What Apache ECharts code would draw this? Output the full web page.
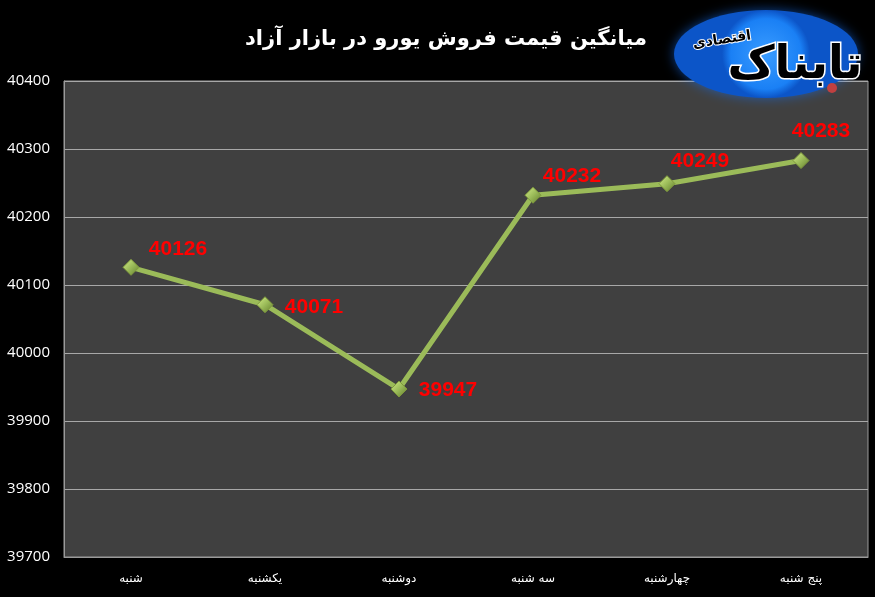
<!DOCTYPE html>
<html lang="fa">
<head>
    <meta charset="UTF-8">
    <title>میانگین قیمت فروش یورو</title>
    <script src="https://cdn.jsdelivr.net/npm/echarts@6/dist/echarts.min.js"></script>
    <style>
        html, body { margin: 0; padding: 0; background: #000; }
        #main { width: 875px; height: 597px; }
    </style>
</head>
<body>
<div id="main"></div>
<script>
    // داده‌ها
    var days = ['شنبه', 'یکشنبه', 'دوشنبه', 'سه شنبه', 'چهارشنبه', 'پنج شنبه'];
    var prices = [40126, 40071, 39947, 40232, 40249, 40283];
    var yTicks = [39700, 39800, 39900, 40000, 40100, 40200, 40300, 40400];

    // label offsets per point (placement only)
    var labelOffsets = [[47, -18], [49, 2], [49, 1], [39, -19], [33, -22], [20, -29]];

    var chart = echarts.init(document.getElementById('main'));

    chart.setOption({
        backgroundColor: '#000',
        animation: false,
        title: {
            text: 'میانگین قیمت فروش یورو در بازار آزاد',
            left: 441,
            top: 24,
            textAlign: 'center',
            textStyle: {
                color: '#fff',
                fontSize: 21,
                fontWeight: 'bold',
                fontFamily: 'DejaVu Sans'
            }
        },
        grid: {
            left: 64, right: 7, top: 81, bottom: 40,
            show: true,
            backgroundColor: '#404040',
            borderColor: '#9a9a9a',
            borderWidth: 1
        },
        xAxis: {
            type: 'category',
            data: days,
            axisLine: { lineStyle: { color: '#9a9a9a' } },
            axisTick: { show: false },
            axisLabel: {
                color: '#fff',
                fontSize: 12,
                fontFamily: 'DejaVu Sans',
                margin: 16
            }
        },
        yAxis: {
            type: 'value',
            min: yTicks[0],
            max: yTicks[yTicks.length - 1],
            interval: 100,
            axisLine: { show: true, lineStyle: { color: '#9a9a9a' } },
            axisTick: { show: false },
            splitLine: { lineStyle: { color: '#a8a8a8', width: 1 } },
            axisLabel: {
                color: '#fff',
                fontSize: 15,
                fontFamily: 'Open Sans',
                margin: 14,
                formatter: function (v) { return String(v); }
            }
        },
        series: [{
            type: 'line',
            data: prices.map(function (v, i) {
                return {
                    value: v,
                    label: { offset: labelOffsets[i] }
                };
            }),
            lineStyle: { color: '#9bbb59', width: 5 },
            symbol: 'diamond',
            symbolSize: 16,
            itemStyle: {
                color: new echarts.graphic.LinearGradient(0, 0, 1, 1, [
                    { offset: 0, color: '#d6ee8a' },
                    { offset: 0.5, color: '#9bbb59' },
                    { offset: 1, color: '#5f7a2a' }
                ]),
                borderColor: '#7f9a3c',
                borderWidth: 1
            },
            label: {
                show: true,
                position: 'inside',
                color: '#ff0000',
                fontSize: 21,
                fontWeight: 'bold',
                fontFamily: 'Liberation Sans'
            },
            z: 3
        }],
        graphic: [
            {
                type: 'ellipse',
                shape: { cx: 766, cy: 54, rx: 92, ry: 44 },
                style: {
                    fill: new echarts.graphic.RadialGradient(0.5, 0.5, 0.5, [
                        { offset: 0, color: '#3a9cff' },
                        { offset: 0.8, color: '#1a80f5' },
                        { offset: 1, color: '#0c55c8' }
                    ]),
                    shadowBlur: 12,
                    shadowColor: 'rgba(20,110,240,0.6)'
                },
                z: 10
            },
            {
                type: 'text',
                x: 795,
                y: 66,
                style: {
                    text: 'تابناک',
                    align: 'center',
                    verticalAlign: 'middle',
                    fill: '#000',
                    stroke: '#fff',
                    lineWidth: 3,
                    font: 'bold 46px "DejaVu Sans"'
                },
                z: 11
            },
            {
                type: 'text',
                x: 722,
                y: 40,
                rotation: 0.15,
                style: {
                    text: 'اقتصادی',
                    align: 'center',
                    verticalAlign: 'middle',
                    fill: '#000',
                    stroke: '#fff',
                    lineWidth: 2,
                    font: 'bold 14px "DejaVu Sans"'
                },
                z: 11
            },
            {
                type: 'circle',
                shape: { cx: 832, cy: 88, r: 5 },
                style: { fill: '#c04040' },
                z: 12
            }
        ]
    });
</script>
</body>
</html>
